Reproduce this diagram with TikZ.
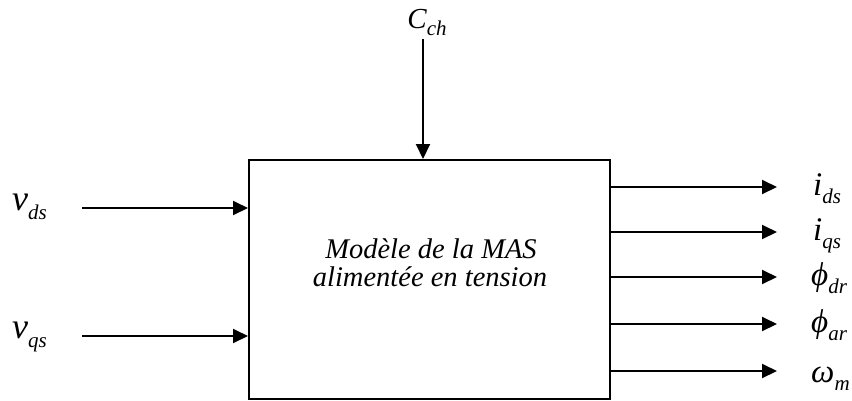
\documentclass[tikz,border=0pt]{standalone}
\usepackage{fontspec}
\setmainfont{Liberation Serif}
\usetikzlibrary{arrows.meta}
\newcommand\sigsub[1]{\raisebox{-0.25em}{\fontsize{21}{21}\selectfont\itshape #1}}
\tikzset{
  sig/.style={line width=2pt,-{Triangle[length=15pt,width=14pt]}},
  lab/.style={inner sep=0pt,anchor=base west,font=\fontsize{33}{33}\selectfont\itshape},
  blk/.style={draw,line width=2pt,minimum width=361pt,minimum height=239pt,inner sep=0pt},
  boxtxt/.style={inner sep=0pt,anchor=base,font=\fontsize{28.5}{28.5}\selectfont\itshape}
}
\begin{document}
\begin{tikzpicture}[x=1pt,y=-1pt]
\useasboundingbox (0,0) rectangle (852,400);
\node[blk] (box) at (429.5,279.5) {};
\node[boxtxt] (txt1) at (431,258) {Modèle de la MAS};
\node[boxtxt] (txt2) at (430,286) {alimentée en tension};
% inputs
\node[lab,font=\fontsize{36}{36}\selectfont\itshape] (vds) at (12,210) {v\sigsub{ds}};
\node[lab,font=\fontsize{36}{36}\selectfont\itshape] (vqs) at (12,338) {v\sigsub{qs}};
\coordinate (a1) at (82,208);
\coordinate (a2) at (82,336);
\draw[sig] (a1) -- (box.west |- a1);
\draw[sig] (a2) -- (box.west |- a2);
% top
\node[inner sep=0pt,anchor=base,font=\fontsize{29}{29}\selectfont\itshape] (cch) at (427,28) {C\raisebox{-0.25em}{\fontsize{21}{21}\selectfont ch}};
\coordinate (c0) at (423,39);
\draw[sig] (c0) -- (box.north -| c0);
% outputs
\coordinate (o1) at (777,187);
\coordinate (o2) at (777,232);
\coordinate (o3) at (777,277);
\coordinate (o4) at (777,324);
\coordinate (o5) at (777,371);
\foreach \o in {o1,o2,o3,o4,o5} \draw[sig] (box.east |- \o) -- (\o);
\node[lab] (ids) at (813,195) {i\sigsub{ds}};
\node[lab] (iqs) at (813,240) {i\sigsub{qs}};
\node[lab] (pdr) at (811,285) {ϕ\sigsub{dr}};
\node[lab] (par) at (811,332) {ϕ\sigsub{ar}};
\node[lab] (wm) at (811,382) {ω\sigsub{m}};
\end{tikzpicture}
\end{document}
